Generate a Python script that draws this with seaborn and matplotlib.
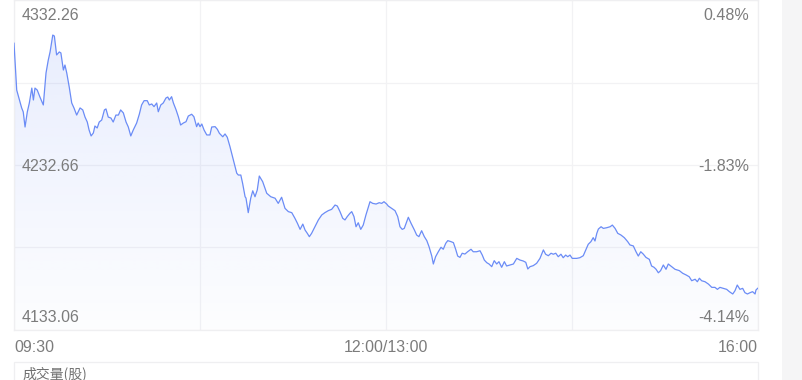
import numpy as np
import pandas as pd
import seaborn as sns
import matplotlib
matplotlib.use("Agg")
import matplotlib.pyplot as plt
import matplotlib.transforms as mtransforms
from matplotlib.colors import to_rgb
from matplotlib.patches import Rectangle

# ---- data (minutes since 09:30 on the compressed session axis, index level) ----
minutes = [
    0.0, 1.2, 2.4, 3.4, 4.1, 4.9, 5.9, 6.8, 7.9, 8.6, 9.3, 10.3, 11.5, 13.0, 14.2, 15.2, 16.0, 17.2, 17.9, 18.9,
    20.1, 20.8, 21.9, 22.6, 23.4, 24.5, 25.6, 26.6, 27.8, 29.3, 30.5, 31.5, 32.5, 33.3, 34.2, 35.2, 35.9, 36.9, 37.8, 38.9,
    40.1, 40.8, 41.8, 43.0, 44.0, 45.2, 46.3, 47.3, 48.5, 49.7, 50.7, 51.8, 52.9, 54.4, 55.6, 56.6, 57.7, 59.1, 60.0, 61.1,
    62.1, 63.3, 64.0, 65.1, 66.2, 67.4, 68.2, 68.9, 69.9, 70.7, 71.9, 72.9, 73.9, 75.1, 76.3, 77.3, 78.8, 79.8, 81.0, 81.7,
    82.5, 83.3, 84.3, 85.5, 86.9, 87.7, 89.2, 90.2, 91.1, 92.6, 93.6, 94.6, 95.8, 97.3, 98.8, 99.5, 100.6, 101.4, 102.5, 102.9,
    103.9, 105.0, 105.9, 106.9, 107.9, 108.8, 110.3, 112.1, 113.9, 115.8, 117.2, 118.7, 120.2, 121.7, 123.2, 124.6, 125.7, 126.9, 128.1, 129.1,
    130.1, 131.0, 132.0, 133.5, 135.0, 136.5, 137.9, 139.4, 140.9, 142.4, 143.4, 144.6, 145.8, 146.8, 147.8, 149.0, 149.8, 150.8, 151.7, 152.7,
    153.8, 154.9, 156.1, 157.2, 157.9, 159.1, 160.6, 162.0, 163.1, 164.1, 165.3, 166.0, 167.5, 169.0, 170.2, 171.2, 172.2, 173.1, 174.2, 174.9,
    176.1, 177.6, 178.6, 179.6, 180.8, 182.0, 183.1, 184.1, 185.3, 186.0, 187.0, 188.2, 189.4, 190.4, 191.5, 192.4, 193.8, 194.9, 195.9, 196.8,
    197.8, 198.8, 200.0, 201.2, 202.7, 203.7, 205.2, 206.7, 207.7, 208.6, 209.7, 210.7, 211.9, 213.0, 214.1, 215.1, 216.3, 217.5, 218.5, 220.0,
    221.5, 223.0, 224.4, 225.9, 227.0, 227.9, 228.9, 230.3, 231.8, 233.3, 234.8, 235.8, 237.0, 238.2, 239.2, 240.3, 241.4, 242.6, 243.6, 244.7,
    245.6, 246.6, 247.6, 249.6, 251.0, 252.5, 253.6, 254.7, 255.9, 256.9, 257.7, 258.5, 259.2, 260.4, 261.4, 262.9, 264.4, 265.4, 266.6, 267.8,
    269.2, 270.7, 272.2, 273.2, 274.7, 275.9, 276.9, 278.0, 279.1, 280.3, 281.8, 282.8, 283.9, 284.8, 285.8, 286.8, 288.0, 289.2, 290.2, 291.7,
    293.2, 295.1, 296.6, 298.1, 299.5, 300.6, 302.1, 303.1, 304.0, 305.0, 306.5, 308.0, 309.5, 310.9, 312.0, 313.1, 314.6, 316.1, 317.3, 318.8,
    319.8, 320.8, 322.0, 323.2, 324.2, 325.3, 326.5, 327.6, 328.7, 329.1, 330.0,
]
prices = [
    4306.3, 4277.9, 4271.9, 4267.1, 4264.7, 4255.6, 4264.7, 4270.1, 4279.1, 4271.9, 4279.1, 4277.9, 4273.7, 4268.9, 4288.2, 4296.0, 4300.9, 4311.1, 4310.5, 4299.1,
    4300.9, 4300.3, 4290.0, 4293.0, 4288.2, 4279.7, 4270.1, 4267.1, 4262.8, 4267.1, 4265.9, 4261.6, 4258.6, 4253.8, 4250.2, 4252.0, 4256.2, 4255.0, 4258.6, 4259.8,
    4265.9, 4266.5, 4261.6, 4261.0, 4258.6, 4262.8, 4262.8, 4265.9, 4264.1, 4258.6, 4255.6, 4250.2, 4253.8, 4258.0, 4263.4, 4268.9, 4271.5, 4271.5, 4268.9, 4269.5,
    4267.9, 4270.1, 4264.8, 4268.9, 4270.1, 4273.1, 4273.7, 4271.9, 4273.9, 4270.1, 4265.9, 4261.8, 4256.8, 4258.0, 4258.8, 4262.2, 4263.3, 4261.8, 4255.8, 4258.0,
    4255.8, 4257.4, 4253.8, 4250.8, 4250.8, 4255.6, 4255.8, 4254.2, 4251.8, 4249.7, 4251.4, 4249.4, 4243.7, 4235.7, 4227.7, 4226.6, 4226.6, 4221.6, 4213.5, 4212.7,
    4203.9, 4212.6, 4217.1, 4213.5, 4217.6, 4226.0, 4222.6, 4215.6, 4213.5, 4212.6, 4209.5, 4213.2, 4206.5, 4204.5, 4203.9, 4200.5, 4197.5, 4193.8, 4197.0, 4193.4,
    4191.4, 4189.4, 4191.4, 4195.4, 4199.5, 4202.5, 4203.9, 4205.1, 4205.9, 4208.5, 4207.9, 4204.5, 4200.5, 4199.5, 4201.5, 4203.5, 4204.5, 4201.5, 4195.4, 4197.8,
    4193.8, 4196.4, 4202.5, 4207.5, 4210.5, 4209.5, 4209.1, 4209.9, 4209.5, 4210.5, 4209.1, 4207.9, 4206.5, 4205.1, 4201.5, 4195.4, 4193.8, 4194.4, 4198.4, 4201.1,
    4197.5, 4193.4, 4190.4, 4189.4, 4193.0, 4189.4, 4187.0, 4183.3, 4177.7, 4172.9, 4177.3, 4180.3, 4183.0, 4181.8, 4185.4, 4187.0, 4186.4, 4185.8, 4181.8, 4177.7,
    4176.9, 4179.4, 4178.9, 4180.3, 4181.8, 4180.3, 4180.3, 4180.9, 4178.3, 4175.3, 4173.7, 4172.9, 4171.3, 4174.9, 4172.9, 4174.3, 4170.9, 4174.3, 4171.7, 4172.3,
    4172.9, 4176.3, 4175.3, 4174.7, 4173.9, 4169.9, 4171.3, 4171.9, 4173.3, 4176.3, 4181.4, 4178.8, 4177.9, 4179.4, 4178.8, 4179.4, 4177.3, 4178.8, 4176.7, 4178.3,
    4177.3, 4178.3, 4176.3, 4176.3, 4176.7, 4177.9, 4181.4, 4184.8, 4186.4, 4188.8, 4186.8, 4191.4, 4194.0, 4195.4, 4194.4, 4194.8, 4195.4, 4196.4, 4194.4, 4191.4,
    4190.4, 4188.8, 4186.4, 4184.4, 4183.8, 4180.3, 4177.7, 4180.3, 4178.9, 4176.9, 4175.7, 4171.7, 4170.9, 4169.7, 4167.6, 4168.9, 4172.3, 4169.7, 4172.9, 4171.3,
    4169.7, 4168.9, 4167.3, 4166.3, 4165.2, 4162.8, 4163.7, 4162.2, 4164.3, 4162.8, 4162.2, 4160.8, 4158.8, 4158.8, 4157.6, 4158.8, 4158.2, 4157.6, 4156.2, 4154.8,
    4156.8, 4160.2, 4157.6, 4158.2, 4155.6, 4154.8, 4155.6, 4156.2, 4154.8, 4157.2, 4158.4,
]
price_levels = [4332.26, 4232.66, 4133.06]
price_labels = ["4332.26", "4232.66", "4133.06"]
pct_labels = ["0.48%", "-1.83%", "-4.14%"]
x_tick_pos = [0, 165, 330]
x_tick_labels = ["09:30", "12:00/13:00", "16:00"]
volume_title = "成交量(股)"

# ---- style ----
line_color = "#6b8cf6"
text_color = "#7c7c7c"
grid_color = "#f2f2f4"
W, H = 802, 380

sns.set_theme(style="white")
plt.rcParams["font.family"] = ["Liberation Sans", "Noto Sans CJK SC", "DejaVu Sans"]

fig = plt.figure(figsize=(W / 100, H / 100), dpi=100)
fig.patch.set_facecolor("white")
ax = fig.add_axes([14 / W, 50 / H, 744 / W, 330 / H])
ax.set_facecolor("white")

df = pd.DataFrame({"minute": minutes, "price": prices})
sns.lineplot(data=df, x="minute", y="price", ax=ax, color=line_color,
             linewidth=0.9, zorder=3)

y_top, y_bot = price_levels[0], price_levels[2]
ax.set_xlim(x_tick_pos[0], x_tick_pos[-1])
ax.set_ylim(y_bot, y_top)

# gradient area under the line
poly = ax.fill_between(df["minute"], df["price"], y_bot, color="none", lw=0)
grad = np.zeros((256, 1, 4))
grad[:, :, :3] = to_rgb(line_color)
grad[:, 0, 3] = np.linspace(0.17, 0.015, 256)
im = ax.imshow(grad, extent=[x_tick_pos[0], x_tick_pos[-1], y_bot, y_top],
               aspect="auto", origin="upper", zorder=2, interpolation="bilinear")
im.set_clip_path(poly.get_paths()[0], transform=ax.transData)

# grid
step = (y_top - y_bot) / 4
ax.set_yticks([y_bot + i * step for i in range(5)])
ax.set_xticks(x_tick_pos, x_tick_labels)
ax.set_xticks([82.5, 247.5], minor=True)
ax.grid(True, which="both", color=grid_color, linewidth=0.9, zorder=0)
ax.set_axisbelow(True)
ax.tick_params(axis="y", left=False, labelleft=False, which="both")
ax.tick_params(axis="x", which="both", length=0, pad=7, labelsize=11.5,
               labelcolor=text_color)
for lbl, ha in zip(ax.get_xticklabels(), ["left", "center", "right"]):
    lbl.set_ha(ha)
for s in ax.spines.values():
    s.set_color("#efeff1")
    s.set_linewidth(0.9)
ax.set_xlabel("")
ax.set_ylabel("")

# inner price / percent labels
ytr = ax.get_yaxis_transform()
offsets = [-14, 0, 14]
for lvl, pl, pc, off in zip(price_levels, price_labels, pct_labels, offsets):
    t = mtransforms.offset_copy(ytr, fig=fig, x=0, y=off, units="dots")
    ax.text(8 / 744, lvl, pl, transform=t, ha="left", va="center_baseline",
            fontsize=11.5, color=text_color, zorder=5)
    ax.text(1 - 9 / 744, lvl, pc, transform=t, ha="right", va="center_baseline",
            fontsize=11.5, color=text_color, zorder=5)

# right grey strip and volume panel header
fig.add_artist(Rectangle((782 / W, 0), 20 / W, 1, transform=fig.transFigure,
                         facecolor="#f5f5f6", edgecolor="none"))
fig.add_artist(Rectangle((14 / W, -0.05), 744 / W, (18 / H) + 0.05,
                         transform=fig.transFigure, facecolor="none",
                         edgecolor="#efeff1", linewidth=0.9))
fig.text(22 / W, 6.5 / H, volume_title, ha="left", va="center",
         fontsize=10, color="#707070",
         family=["Noto Sans CJK SC", "DejaVu Sans"])

fig.savefig("out.png", dpi=100)
